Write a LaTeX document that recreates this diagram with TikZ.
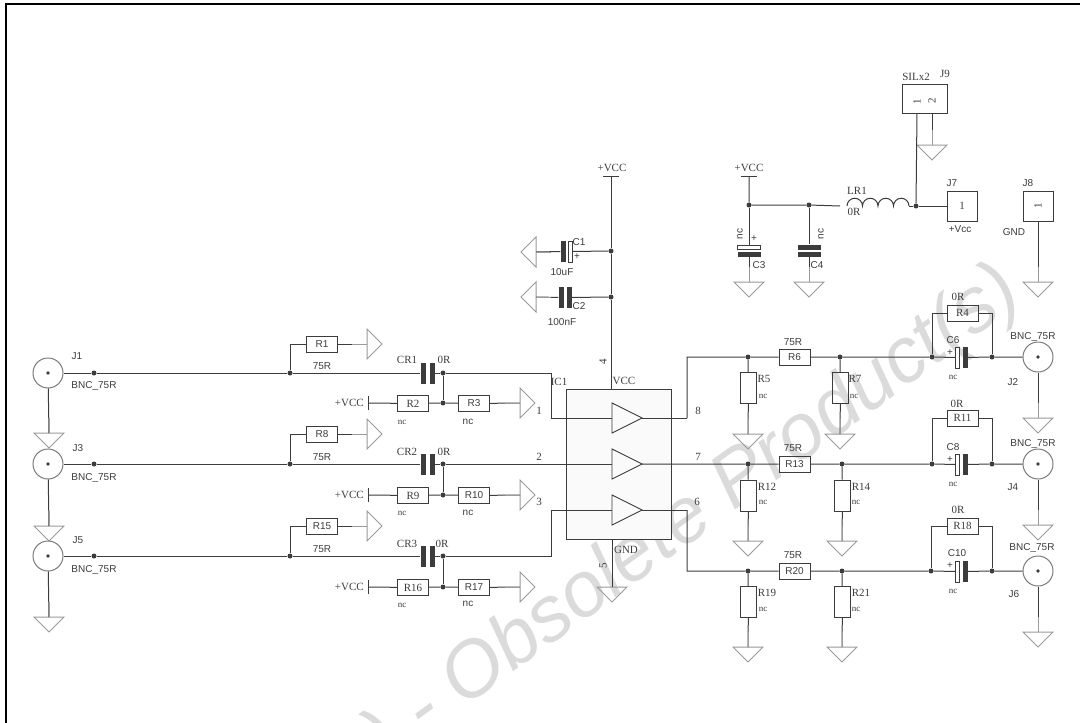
\documentclass[tikz,border=0pt]{standalone}
\usepackage{fontspec}
\setmainfont{Liberation Sans}
\newfontfamily\serifface{Liberation Serif}
\usetikzlibrary{shapes.geometric}
\definecolor{wirecol}{HTML}{3C3C3C}
\definecolor{leadcol}{HTML}{9A9A9A}
\begin{document}
\begin{tikzpicture}%
	[x=1pt,y=-1pt,
	wire/.style={color=wirecol, line width=1pt},
	lead/.style={color=leadcol, line width=1pt},
	frameline/.style={color=black, line width=2pt},
	resbox/.style={draw=wirecol, line width=1pt, inner sep=0pt, minimum width=31pt, minimum height=16pt, font=\fontsize{10}{10}\selectfont, text=wirecol},
	resboxrm/.style={resbox, font=\serifface\fontsize{11}{11}\selectfont},
	vresbox/.style={draw=wirecol, line width=1pt, inner sep=0pt, minimum width=16pt, minimum height=31pt},
	conbox/.style={draw=wirecol, line width=1pt, inner sep=0pt, minimum width=30pt, minimum height=30pt, font=\serifface\fontsize{11}{11}\selectfont, text=wirecol},
	gnd/.style={isosceles triangle, isosceles triangle apex angle=90, draw=leadcol, line width=1pt, inner sep=0pt, outer sep=0pt, minimum height=15pt, minimum width=30pt},
	gnddown/.style={gnd, shape border rotate=-90, anchor=lower side},
	gndleft/.style={gnd, shape border rotate=180, anchor=lower side},
	gndright/.style={gnd, shape border rotate=0, anchor=lower side},
	buffer/.style={isosceles triangle, isosceles triangle apex angle=53, draw=wirecol, fill=black!2, line width=.9pt, inner sep=0pt, outer sep=0pt, minimum height=30pt, minimum width=30pt, anchor=lower side},
	dot/.style={circle, fill=wirecol, inner sep=0pt, minimum size=5pt},
	bnc/.style={circle, draw=leadcol!80!black, line width=1pt, inner sep=0pt, minimum size=30pt},
	hplate/.style={fill=wirecol, inner sep=0pt, minimum width=5pt, minimum height=21pt},
	hopen/.style={draw=wirecol, fill=white, line width=.7pt, inner sep=0pt, minimum width=4pt, minimum height=21pt},
	vplate/.style={fill=wirecol, inner sep=0pt, minimum width=23pt, minimum height=5pt},
	vopen/.style={draw=wirecol, fill=white, line width=.7pt, inner sep=0pt, minimum width=23pt, minimum height=4pt},
	bar/.style={fill=wirecol, inner sep=0pt},
	lab/.style={inner sep=0pt, text=wirecol, font=\fontsize{10}{10}\selectfont},
	labrm/.style={inner sep=0pt, text=wirecol, font=\serifface\fontsize{11}{11}\selectfont},
	labnc/.style={inner sep=0pt, text=wirecol, font=\serifface\fontsize{9}{9}\selectfont}]
%
\useasboundingbox (0,0) rectangle (1080,723);
%% watermark
\node[rotate=36, inner sep=0pt, text=black!14, font=\itshape\fontsize{78}{78}\selectfont] (mark) at (694,516) {) - Obsolete Product(s)};
%%
%% frame
\coordinate (tl) at (6,724);
\coordinate (tc) at (6,4);
\coordinate (tr) at (1081,4);
\draw[frameline] (tl) -- (tc) -- (tr);
%%
%% the chip
\node[draw=wirecol, fill=black!2, line width=.9pt, inner sep=0pt, minimum width=105pt, minimum height=150pt] (IC1) at (618.5,464) {};
\coordinate (in1) at (551,418);
\coordinate (in3) at (551,510);
\coordinate (out8) at (687,418);
\coordinate (out6) at (687,510);
\node[buffer] (B1) at (612,418) {};
\node[buffer] (B2) at (612,464) {};
\node[buffer] (B3) at (612,510) {};
\draw[wire] (in1) -- (B1.lower side);
\draw[wire] (in3) -- (B3.lower side);
\draw[wire] (B1.apex) -- (out8);
\draw[wire] (B3.apex) -- (out6);
\node[labrm] (lIC1) at (559,382) {IC1};
\node[labrm] (lVCC) at (624,381) {VCC};
\node[labrm] (lGND) at (626,550) {GND};
\node[labrm, rotate=90] (p4) at (603,362) {4};
\node[labrm, rotate=90] (p5) at (603,566) {5};
\node[labrm] (p1) at (539,411) {1};
\node[labrm] (p2) at (539,457) {2};
\node[labrm] (p3) at (539,502) {3};
\node[labrm] (p8) at (698,411) {8};
\node[labrm] (p7) at (698,457) {7};
\node[labrm] (p6) at (697,502) {6};
%%
%% decoupling next to the chip
\coordinate (vcc1) at (611,176);
\node[bar, minimum width=16pt, minimum height=1pt] (vccbar1) at (611,176) {};
\node[labrm] (lvcc1) at (612,168) {+VCC};
\node[dot] (d1) at (611,251) {};
\node[dot] (d2) at (611,297) {};
\coordinate (pin4) at (611,389);
\draw[wire] (vcc1) -- (d1) -- (d2) -- (pin4);
\node[gndleft] (G1) at (536,252) {};
\node[hplate] (C1a) at (563,251.5) {};
\node[hopen] (C1b) at (570.5,251.5) {};
\draw[wire] (G1.lower side) -- (C1a);
\draw[lead] (G1.lower side) -- ++(15,0);
\draw[wire] (C1b) -- (d1);
\node[lab] (lC1) at (579,242) {C1};
\node[lab] (lC1p) at (577,257) {+};
\node[lab] (lC1v) at (562,272) {10uF};
\node[gndleft] (G2) at (536,297) {};
\node[hplate] (C2a) at (561,297.5) {};
\node[hplate] (C2b) at (569,297.5) {};
\draw[wire] (G2.lower side) -- (C2a);
\draw[lead] (G2.lower side) -- ++(15,0);
\draw[wire] (C2b) -- (d2);
\node[lab] (lC2) at (579,306) {C2};
\node[lab] (lC2v) at (562,322) {100nF};
%%
%% chip ground
\node[gnddown] (G3) at (612,587) {};
\coordinate (pin5) at (612,539);
\draw[wire] (pin5) -- (G3.lower side);
%%
%% supply filter
\node[bar, minimum width=16pt, minimum height=1pt] (vccbar2) at (749,176) {};
\node[labrm] (lvcc2) at (749,168) {+VCC};
\node[dot] (d3) at (749,205) {};
\node[dot] (d4) at (809,205) {};
\node[dot] (d5) at (916,206) {};
\coordinate (l1a) at (840,206);
\coordinate (l1b) at (847,206);
\coordinate (l1c) at (909,206);
\draw[wire] (vccbar2) -- (d3) -- (d4) -- (l1a);
\draw[wire] (l1b) arc[start angle=180, end angle=0, radius=7.75pt] arc[start angle=180, end angle=0, radius=7.75pt] arc[start angle=180, end angle=0, radius=7.75pt] arc[start angle=180, end angle=0, radius=7.75pt] -- (l1c);
\draw[wire] (l1c) -- (d5);
\node[labrm] (lLR1) at (857,191) {LR1};
\node[labrm] (lLR1v) at (854,212) {0R};
\node[vopen] (C3a) at (749,247) {};
\node[vplate] (C3b) at (749,254.5) {};
\node[gnddown] (G4) at (749,282) {};
\draw[wire] (d3) -- (C3a);
\draw[wire] (C3b) -- (G4.lower side);
\draw[lead] (G4.lower side) -- ++(0,-15);
\node[lab, rotate=90] (lC3nc) at (740,234) {nc};
\node[lab] (lC3p) at (754,239) {+};
\node[lab] (lC3) at (759,265) {C3};
\node[vplate] (C4a) at (809,247) {};
\node[vplate] (C4b) at (809,254.5) {};
\node[gnddown] (G5) at (809,282) {};
\draw[wire] (d4) -- (C4a);
\draw[wire] (C4b) -- (G5.lower side);
\draw[lead] (G5.lower side) -- ++(0,-15);
\node[lab, rotate=90] (lC4nc) at (821,234) {nc};
\node[lab] (lC4) at (817,265) {C4};
\node[conbox] (J7) at (962,206) {1};
\draw[wire] (d5) -- (J7);
\node[lab] (lJ7) at (952,183) {J7};
\node[lab] (lJ7v) at (960,229) {+Vcc};
\node[conbox] (J8) at (1038,206) {\rotatebox{90}{1}};
\node[gnddown] (G6) at (1038,282) {};
\draw[wire] (J8) -- (G6.lower side);
\draw[lead] (G6.lower side) -- ++(0,-15);
\node[lab] (lJ8) at (1028,183) {J8};
\node[lab] (lJ8v) at (1014,232) {GND};
\node[draw=wirecol, line width=1pt, inner sep=0pt, minimum width=45pt, minimum height=29pt] (J9) at (924.5,98.5) {};
\coordinate (J9a) at (917,113);
\coordinate (J9b) at (932,113);
\node[labrm, rotate=90] (p91) at (917,102) {1};
\node[labrm, rotate=90] (p92) at (932,101) {2};
\node[gnddown] (G7) at (932,145) {};
\draw[wire] (J9a) -- (d5);
\draw[wire] (J9b) -- (G7.lower side);
\draw[lead] (G7.lower side) -- ++(0,-15);
\node[labrm] (lJ9t) at (916,77) {SILx2};
\node[labrm] (lJ9) at (945,74) {J9};
%%
%% input J1
\node[bnc] (J1) at (48,373) {};
\node[dot, minimum size=3.6pt] (J1c) at (48,373) {};
\node[dot] (d6) at (94,373) {};
\node[dot] (d7) at (290,373) {};
\node[resbox] (R1) at (322,344) {R1};
\node[gndright] (G8) at (367,344) {};
\draw[wire] (J1) -- (d6) -- (d7);
\draw[wire] (d7) |- (R1);
\draw[wire] (R1) -- (G8.lower side);
\draw[lead] (G8.lower side) -- ++(-15,0);
\node[gnddown] (G9) at (49,433) {};
\draw[wire] (J1) -- (G9.lower side);
\draw[lead] (G9.lower side) -- ++(0,-15);
\node[lab] (lJ1) at (77,356) {J1};
\node[lab] (lJ1v) at (94,386) {BNC\_75R};
\node[lab] (lR1) at (322,366) {75R};
\node[hplate] (CR1a) at (423,373) {};
\node[hplate] (CR1b) at (432,373) {};
\node[dot] (d8) at (443,373) {};
\node[dot] (d9) at (443,403) {};
\coordinate (c1) at (551,373);
\draw[wire] (d7) -- (CR1a);
\draw[wire] (CR1b) -- (d8) -- (c1) -- (in1);
\draw[wire] (d8) -- (d9);
\node[labrm] (lCR1) at (407,360) {CR1};
\node[labrm] (lCR1v) at (444,360) {0R};
\node[bar, minimum width=1pt, minimum height=14pt] (vccbar3) at (368,403) {};
\node[labrm, anchor=east] (lvcc3) at (364,403) {+VCC};
\node[resboxrm] (R2) at (413,403.5) {R2};
\node[resbox] (R3) at (474,403.5) {R3};
\node[gndright] (G10) at (520,403) {};
\draw[wire] (vccbar3) -- (R2);
\draw[wire] (R2) -- (d9) -- (R3);
\draw[wire] (R3) -- (G10.lower side);
\draw[lead] (G10.lower side) -- ++(-15,0);
\node[labnc] (lR2) at (402,422) {nc};
\node[lab] (lR3) at (468,422) {nc};
%%
%% input J3
\node[bnc] (J3) at (48,464) {};
\node[dot, minimum size=3.6pt] (J3c) at (48,464) {};
\node[dot] (d10) at (94,464) {};
\node[dot] (d11) at (290,464) {};
\node[resbox] (R8) at (322,434) {R8};
\node[gndright] (G11) at (367,434) {};
\draw[wire] (J3) -- (d10) -- (d11);
\draw[wire] (d11) |- (R8);
\draw[wire] (R8) -- (G11.lower side);
\draw[lead] (G11.lower side) -- ++(-15,0);
\node[gnddown] (G12) at (49,526) {};
\draw[wire] (J3) -- (G12.lower side);
\draw[lead] (G12.lower side) -- ++(0,-15);
\node[lab] (lJ3) at (78,448) {J3};
\node[lab] (lJ3v) at (94,478) {BNC\_75R};
\node[lab] (lR8) at (322,457) {75R};
\node[hplate] (CR2a) at (423,464) {};
\node[hplate] (CR2b) at (432,464) {};
\node[dot] (d12) at (443,464) {};
\node[dot] (d13) at (443,495) {};
\draw[wire] (d11) -- (CR2a);
\draw[wire] (CR2b) -- (d12) -- (B2.lower side);
\draw[wire] (d12) -- (d13);
\node[labrm] (lCR2) at (407,452) {CR2};
\node[labrm] (lCR2v) at (444,452) {0R};
\node[bar, minimum width=1pt, minimum height=14pt] (vccbar4) at (368,495) {};
\node[labrm, anchor=east] (lvcc4) at (364,495) {+VCC};
\node[resboxrm] (R9) at (413,495.5) {R9};
\node[resbox] (R10) at (474,495.5) {R10};
\node[gndright] (G13) at (520,495) {};
\draw[wire] (vccbar4) -- (R9);
\draw[wire] (R9) -- (d13) -- (R10);
\draw[wire] (R10) -- (G13.lower side);
\draw[lead] (G13.lower side) -- ++(-15,0);
\node[labnc] (lR9) at (402,513) {nc};
\node[lab] (lR10) at (468,513) {nc};
%%
%% input J5
\node[bnc] (J5) at (48,556) {};
\node[dot, minimum size=3.6pt] (J5c) at (48,556) {};
\node[dot] (d14) at (94,556) {};
\node[dot] (d15) at (290,556) {};
\node[resbox] (R15) at (322,526) {R15};
\node[gndright] (G14) at (367,526) {};
\draw[wire] (J5) -- (d14) -- (d15);
\draw[wire] (d15) |- (R15);
\draw[wire] (R15) -- (G14.lower side);
\draw[lead] (G14.lower side) -- ++(-15,0);
\node[gnddown] (G15) at (49,617) {};
\draw[wire] (J5) -- (G15.lower side);
\draw[lead] (G15.lower side) -- ++(0,-15);
\node[lab] (lJ5) at (78,540) {J5};
\node[lab] (lJ5v) at (94,570) {BNC\_75R};
\node[lab] (lR15) at (322,549) {75R};
\node[hplate] (CR3a) at (423,556) {};
\node[hplate] (CR3b) at (432,556) {};
\node[dot] (d16) at (443,556) {};
\node[dot] (d17) at (443,587) {};
\coordinate (c3) at (551,556);
\draw[wire] (d15) -- (CR3a);
\draw[wire] (CR3b) -- (d16) -- (c3) -- (in3);
\draw[wire] (d16) -- (d17);
\node[labrm] (lCR3) at (407,544) {CR3};
\node[labrm] (lCR3v) at (442,544) {0R};
\node[bar, minimum width=1pt, minimum height=14pt] (vccbar5) at (368,587) {};
\node[labrm, anchor=east] (lvcc5) at (364,587) {+VCC};
\node[resboxrm] (R16) at (413,587.5) {R16};
\node[resbox] (R17) at (474,587.5) {R17};
\node[gndright] (G16) at (520,587) {};
\draw[wire] (vccbar5) -- (R16);
\draw[wire] (R16) -- (d17) -- (R17);
\draw[wire] (R17) -- (G16.lower side);
\draw[lead] (G16.lower side) -- ++(-15,0);
\node[labnc] (lR16) at (402,605) {nc};
\node[lab] (lR17) at (468,604) {nc};
%%
%% output J2
\coordinate (c8) at (687,357);
\node[dot] (d18) at (748,357) {};
\node[resbox] (R6) at (794.5,357) {R6};
\node[dot] (d19) at (840,357) {};
\node[dot] (d20) at (932,357) {};
\node[hopen] (C6a) at (957.5,357.5) {};
\node[hplate] (C6b) at (965,357.5) {};
\node[dot] (d21) at (992,357) {};
\node[bnc] (J2) at (1038,357) {};
\node[dot, minimum size=3.6pt] (J2c) at (1038,357) {};
\draw[wire] (out8) -- (c8) -- (d18) -- (R6) -- (d19) -- (d20) -- (C6a);
\draw[wire] (C6b) -- (d21) -- (J2);
\node[resboxrm] (R4) at (962.5,313) {R4};
\draw[wire] (d20) |- (R4);
\draw[wire] (d21) |- (R4);
\node[gnddown] (G17) at (1038,418) {};
\draw[wire] (J2) -- (G17.lower side);
\draw[lead] (G17.lower side) -- ++(0,-15);
\node[lab] (lR6) at (793,342) {75R};
\node[labrm] (lR4) at (958,297) {0R};
\node[lab] (lC6) at (953,340) {C6};
\node[lab] (lC6p) at (950,353) {+};
\node[labnc] (lC6v) at (953,377) {nc};
\node[lab] (lJ2) at (1013,382) {J2};
\node[lab] (lJ2v) at (1033,337) {BNC\_75R};
\node[vresbox] (R5) at (748.5,388) {};
\node[gnddown] (G18) at (748,434) {};
\draw[wire] (d18) -- (R5);
\draw[wire] (R5) -- (G18.lower side);
\draw[lead] (G18.lower side) -- ++(0,-15);
\node[labrm] (lR5) at (764,379) {R5};
\node[labnc] (lR5v) at (763,396) {nc};
\node[vresbox] (R7) at (840.5,388) {};
\node[gnddown] (G19) at (840,434) {};
\draw[wire] (d19) -- (R7);
\draw[wire] (R7) -- (G19.lower side);
\draw[lead] (G19.lower side) -- ++(0,-15);
\node[labrm] (lR7) at (855,379) {R7};
\node[labnc] (lR7v) at (854,396) {nc};
%%
%% output J4
\node[dot] (d22) at (748,464) {};
\node[resbox] (R13) at (794.5,464) {R13};
\node[dot] (d23) at (842,464) {};
\node[dot] (d24) at (932,464) {};
\node[hopen] (C8a) at (957.5,464.5) {};
\node[hplate] (C8b) at (965,464.5) {};
\node[dot] (d25) at (992,464) {};
\node[bnc] (J4) at (1038,464) {};
\node[dot, minimum size=3.6pt] (J4c) at (1038,464) {};
\draw[wire] (B2.apex) -- (d22) -- (R13) -- (d23) -- (d24) -- (C8a);
\draw[wire] (C8b) -- (d25) -- (J4);
\node[resboxrm] (R11) at (962.5,418) {R11};
\draw[wire] (d24) |- (R11);
\draw[wire] (d25) |- (R11);
\node[gnddown] (G20) at (1038,525) {};
\draw[wire] (J4) -- (G20.lower side);
\draw[lead] (G20.lower side) -- ++(0,-15);
\node[lab] (lR13) at (793,448) {75R};
\node[labrm] (lR11) at (957,404) {0R};
\node[lab] (lC8) at (953,447) {C8};
\node[lab] (lC8p) at (950,460) {+};
\node[labnc] (lC8v) at (953,484) {nc};
\node[lab] (lJ4) at (1013,487) {J4};
\node[lab] (lJ4v) at (1033,444) {BNC\_75R};
\node[vresbox] (R12) at (748.5,495.5) {};
\node[gnddown] (G21) at (748,541) {};
\draw[wire] (d22) -- (R12);
\draw[wire] (R12) -- (G21.lower side);
\draw[lead] (G21.lower side) -- ++(0,-15);
\node[labrm] (lR12) at (767,487) {R12};
\node[labnc] (lR12v) at (763,502) {nc};
\node[vresbox] (R14) at (842.5,495.5) {};
\node[gnddown] (G22) at (842,541) {};
\draw[wire] (d23) -- (R14);
\draw[wire] (R14) -- (G22.lower side);
\draw[lead] (G22.lower side) -- ++(0,-15);
\node[labrm] (lR14) at (861,487) {R14};
\node[labnc] (lR14v) at (856,502) {nc};
%%
%% output J6
\coordinate (c6) at (687,571);
\node[dot] (d26) at (748,571) {};
\node[resbox] (R20) at (794.5,571) {R20};
\node[dot] (d27) at (842,571) {};
\node[dot] (d28) at (931,571) {};
\node[hopen] (C10a) at (957.5,571.5) {};
\node[hplate] (C10b) at (965,571.5) {};
\node[dot] (d29) at (992,571) {};
\node[bnc] (J6) at (1038,571) {};
\node[dot, minimum size=3.6pt] (J6c) at (1038,571) {};
\draw[wire] (out6) -- (c6) -- (d26) -- (R20) -- (d27) -- (d28) -- (C10a);
\draw[wire] (C10b) -- (d29) -- (J6);
\node[resboxrm] (R18) at (962.5,526) {R18};
\draw[wire] (d28) |- (R18);
\draw[wire] (d29) |- (R18);
\node[gnddown] (G23) at (1038,632) {};
\draw[wire] (J6) -- (G23.lower side);
\draw[lead] (G23.lower side) -- ++(0,-15);
\node[lab] (lR20) at (793,555) {75R};
\node[labrm] (lR18) at (958,510) {0R};
\node[lab] (lC10) at (957,553) {C10};
\node[lab] (lC10p) at (950,566) {+};
\node[labnc] (lC10v) at (953,591) {nc};
\node[lab] (lJ6) at (1014,594) {J6};
\node[lab] (lJ6v) at (1032,548) {BNC\_75R};
\node[vresbox] (R19) at (748.5,602) {};
\node[gnddown] (G24) at (748,647) {};
\draw[wire] (d26) -- (R19);
\draw[wire] (R19) -- (G24.lower side);
\draw[lead] (G24.lower side) -- ++(0,-15);
\node[labrm] (lR19) at (767,593) {R19};
\node[labnc] (lR19v) at (763,609) {nc};
\node[vresbox] (R21) at (842.5,602) {};
\node[gnddown] (G25) at (842,647) {};
\draw[wire] (d27) -- (R21);
\draw[wire] (R21) -- (G25.lower side);
\draw[lead] (G25.lower side) -- ++(0,-15);
\node[labrm] (lR21) at (861,593) {R21};
\node[labnc] (lR21v) at (856,609) {nc};
\end{tikzpicture}
\end{document}
